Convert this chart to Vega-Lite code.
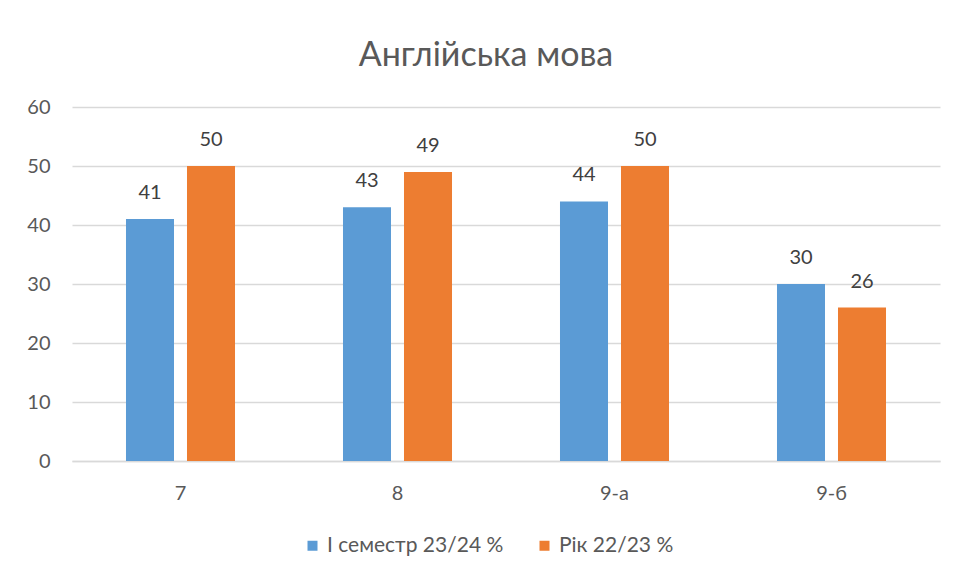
{
  "$schema": "https://vega.github.io/schema/vega-lite/v6.json",
  "width": 868,
  "height": 354,
  "autosize": {"type": "none"},
  "padding": {"left": 72, "top": 107, "right": 18, "bottom": 117},
  "background": "white",
  "config": {"view": {"stroke": null}},
  "title": {
    "text": "Англійська мова",
    "font": "Lato",
    "fontSize": 34,
    "fontWeight": "normal",
    "color": "#595959",
    "anchor": "middle",
    "baseline": "alphabetic",
    "offset": -3,
    "dx": -20
  },
  "data": {
    "values": [
      {"class": "7", "series": "І семестр 23/24 %", "value": 41},
      {"class": "7", "series": "Рік 22/23 %", "value": 50},
      {"class": "8", "series": "І семестр 23/24 %", "value": 43},
      {"class": "8", "series": "Рік 22/23 %", "value": 49},
      {"class": "9-а", "series": "І семестр 23/24 %", "value": 44},
      {"class": "9-а", "series": "Рік 22/23 %", "value": 50},
      {"class": "9-б", "series": "І семестр 23/24 %", "value": 30},
      {"class": "9-б", "series": "Рік 22/23 %", "value": 26}
    ]
  },
  "encoding": {
    "x": {
      "field": "class",
      "type": "nominal",
      "sort": null,
      "scale": {"paddingInner": 0, "paddingOuter": 0},
      "axis": {
        "title": null,
        "labelAngle": 0,
        "labelFont": "Lato",
        "labelFontSize": 20,
        "labelColor": "#595959",
        "labelPadding": 22,
        "ticks": false,
        "domainColor": "#D9D9D9",
        "domainWidth": 1.5,
        "grid": false
      }
    },
    "xOffset": {
      "field": "series",
      "type": "nominal",
      "sort": ["І семестр 23/24 %", "Рік 22/23 %"],
      "scale": {"paddingInner": 0.213, "paddingOuter": 0.885}
    },
    "y": {
      "field": "value",
      "type": "quantitative",
      "scale": {"domain": [0, 60]},
      "axis": {
        "title": null,
        "values": [0, 10, 20, 30, 40, 50, 60],
        "labelFont": "Lato",
        "labelFontSize": 20,
        "labelColor": "#595959",
        "labelPadding": 22,
        "ticks": false,
        "domain": false,
        "gridColor": "#D9D9D9",
        "gridWidth": 1.5
      }
    }
  },
  "layer": [
    {
      "mark": {"type": "bar"},
      "encoding": {
        "color": {
          "field": "series",
          "type": "nominal",
          "sort": ["І семестр 23/24 %", "Рік 22/23 %"],
          "scale": {"domain": ["І семестр 23/24 %", "Рік 22/23 %"], "range": ["#5B9BD5", "#ED7D31"]},
          "legend": {
            "title": null,
            "orient": "none",
            "legendX": 230,
            "legendY": 428,
            "direction": "horizontal",
            "symbolType": "square",
            "symbolSize": 100,
            "symbolStrokeWidth": 0,
            "labelFont": "Lato",
            "labelFontSize": 21,
            "labelLimit": 400,
            "labelColor": "#595959",
            "labelOffset": 4,
            "columnPadding": 30
          }
        }
      }
    },
    {
      "mark": {"type": "text", "baseline": "middle", "dy": -26, "font": "Lato", "fontSize": 20, "color": "#404040"},
      "encoding": {
        "text": {"field": "value", "type": "quantitative"}
      }
    }
  ]
}
